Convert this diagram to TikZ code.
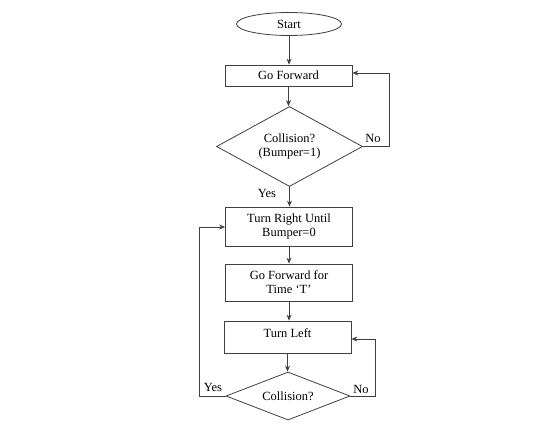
\documentclass[tikz,border=0pt]{standalone}
\usepackage{fontspec}
\setmainfont{Liberation Serif}
\usetikzlibrary{shapes.geometric,arrows.meta}
\begin{document}
\begin{tikzpicture}[x=1pt,y=-1pt,
  every node/.style={font=\fontsize{12.5}{14}\selectfont, text=black},
  ln/.style={draw=black!75, line width=0.8pt},
  arr/.style={ln, -{Stealth[length=6pt,width=5pt]}},
  procbox/.style={ln, rectangle, minimum width=127pt, inner sep=0pt, align=center},
  decbox/.style={ln, diamond, inner sep=0pt, align=center},
  lbl/.style={inner sep=0pt}]
\useasboundingbox (0,0) rectangle (553,431);
\node[ln, ellipse, minimum width=105pt, minimum height=23pt, inner sep=0pt] (start) at (289,24) {Start};
\node[procbox, minimum height=21pt] (gf) at (288.5,75.5) {Go Forward};
\node[decbox, minimum width=146pt, minimum height=80pt, aspect=1.8] (d1) at (289.5,146.5) {Collision?\\(Bumper=1)};
\node[procbox, minimum height=39pt] (tr) at (289,226.5) {Turn Right Until\\Bumper=0};
\node[procbox, minimum height=37pt] (gft) at (289,282.5) {Go Forward for\\Time `T'};
\node[procbox, minimum height=32pt, text depth=8pt] (tl) at (287.5,337) {Turn Left};
\node[decbox, minimum width=124pt, minimum height=48pt, aspect=2.6] (d2) at (288,396) {Collision?};
\coordinate (n1) at (389,73);
\coordinate (y2) at (199,227);
\coordinate (n2) at (375,339);
\draw[arr] (start.south) -- (start.south |- gf.north);
\draw[arr] (gf.south) -- (gf.south |- d1.north);
\draw[arr] (d1.south) -- (d1.south |- tr.north);
\draw[arr] (tr.south) -- (tr.south |- gft.north);
\draw[arr] (gft.south) -- (gft.south |- tl.north);
\draw[arr] (tl.south) -- (tl.south |- d2.north);
\draw[arr] (d1.east) -| (n1) -- (gf.east |- n1);
\draw[arr] (d2.west) -| (y2) -- (tr.west |- y2);
\draw[arr] (d2.east) -| (n2) -- (tl.east |- n2);
\node[lbl] (no1) at (373,138) {No};
\node[lbl] (yes1) at (267,193) {Yes};
\node[lbl] (yes2) at (213,387) {Yes};
\node[lbl] (no2) at (361,389) {No};
\end{tikzpicture}
\end{document}
